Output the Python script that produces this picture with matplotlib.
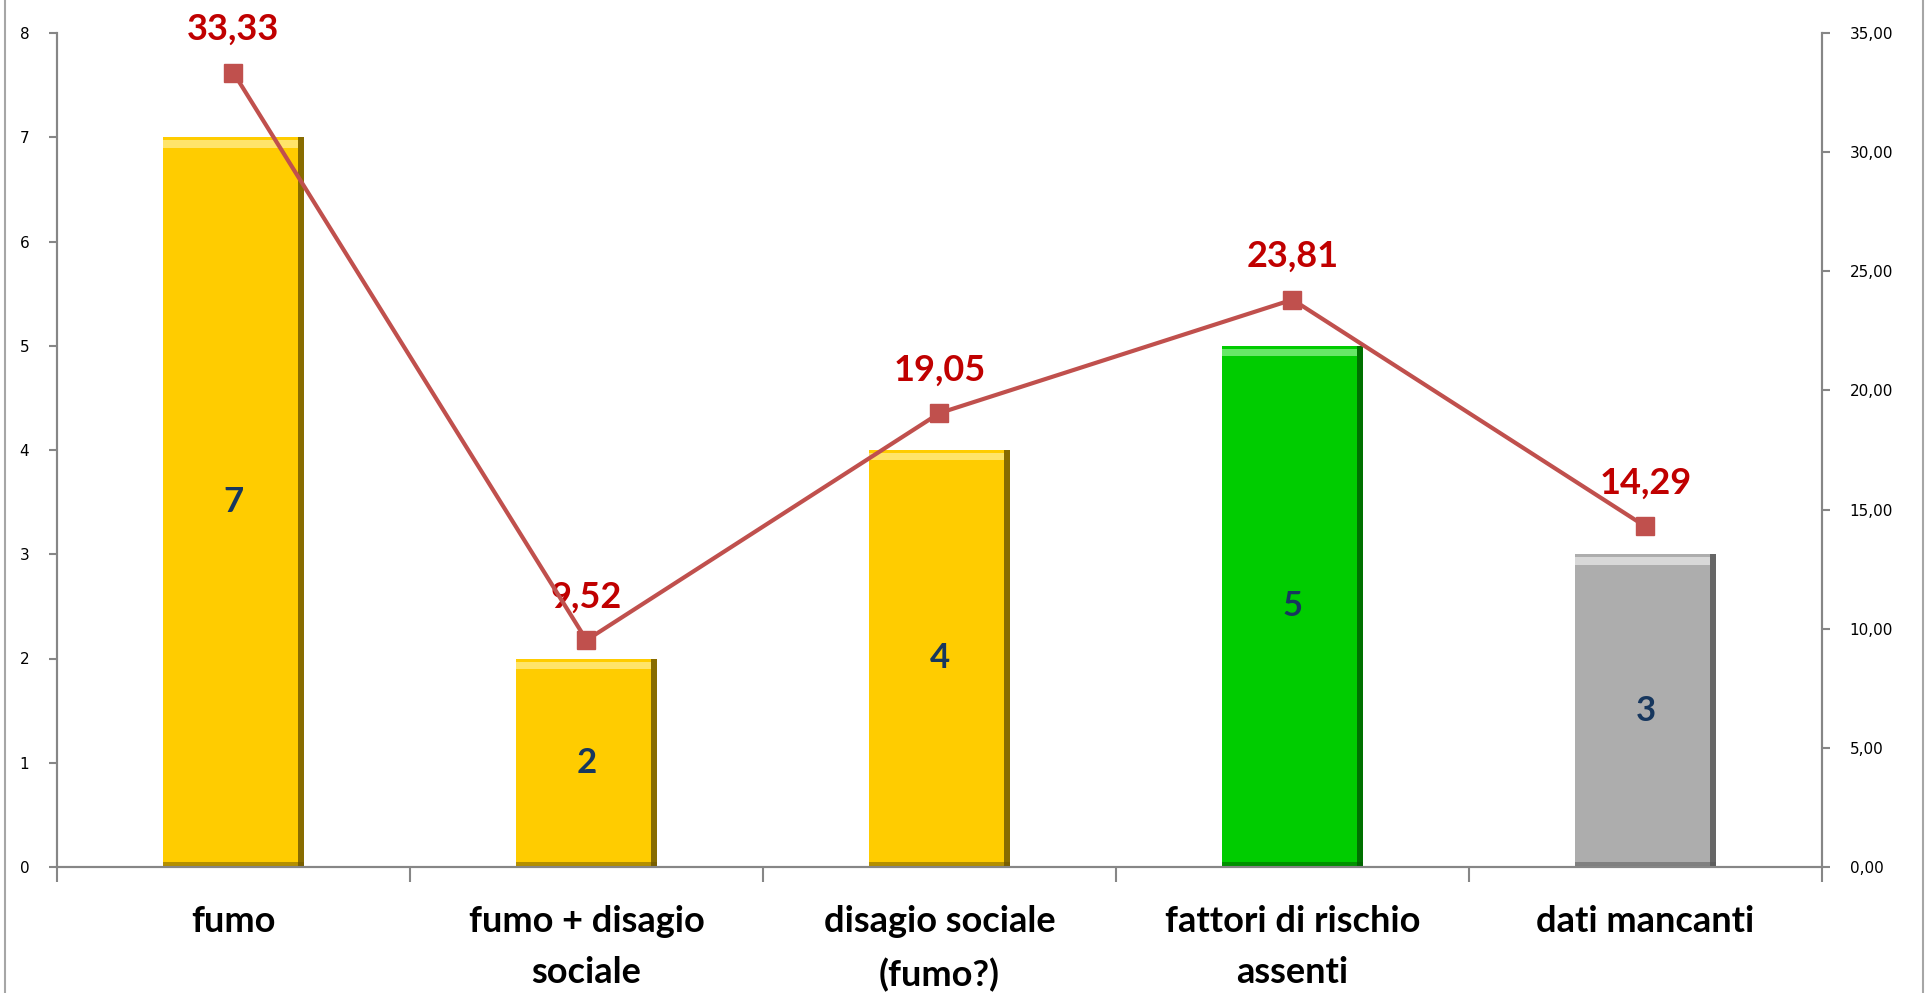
import matplotlib
matplotlib.use('Agg')
import matplotlib.pyplot as plt
from matplotlib.lines import Line2D
import numpy as np

categories = ['fumo', 'fumo + disagio\nsociale', 'disagio sociale\n(fumo?)',
              'fattori di rischio\nassenti', 'dati mancanti']
counts = [7, 2, 4, 5, 3]
percent = [33.33, 9.52, 19.05, 23.81, 14.29]
bar_colors = ['#FFCC00', '#FFCC00', '#FFCC00', '#00CC00', '#ADADAD']
edge_colors = ['#6B5400', '#6B5400', '#6B5400', '#005A00', '#555555']
top_colors = ['#FFE46A', '#FFE46A', '#FFE46A', '#66E866', '#D8D8D8']

left_ticks = list(range(0, 9))
right_ticks = [0, 5, 10, 15, 20, 25, 30, 35]

W, H = 1927, 993
fig = plt.figure(figsize=(W / 100, H / 100), dpi=100)
# chart-area frame: only the side edges are visible in the original
for xf in (4.5 / W, 1922.5 / W):
    fig.add_artist(Line2D([xf, xf], [0, 1], color='#A6A6A6', lw=1.5))

ax = fig.add_axes([57 / W, 1 - 867 / H, (1822 - 57) / W, (867 - 33) / H])
ax2 = ax.twinx()

x = np.arange(len(categories))
bw = 0.40
strip = 0.018

ax.bar(x, counts, width=bw, color=bar_colors, edgecolor='none', zorder=2)
# bevel: dark right strip, light top strip, dark bottom strip
ax.bar(x + bw / 2 - strip, counts, width=strip, align='edge', color=edge_colors, alpha=0.8,
       edgecolor='none', zorder=3)
ax.bar(x - bw / 2, [0.07] * len(x), width=bw - strip, bottom=np.array(counts) - 0.1,
       align='edge', color=top_colors, edgecolor='none', zorder=3)
ax.bar(x - bw / 2, [0.05] * len(x), width=bw, bottom=0, align='edge',
       color=edge_colors, alpha=0.5, edgecolor='none', zorder=3)

for xi, c in zip(x, counts):
    ax.text(xi, c / 2, str(c), ha='center', va='center', fontsize=25,
            fontweight='bold', color='#17375E', family='Lato', zorder=5)

ax.set_xlim(-0.5, len(categories) - 0.5)
ax.set_ylim(0, 8)
ax.set_yticks(left_ticks)
ax.set_xticks(x)
ax.set_xticklabels(categories, fontsize=26, fontweight='bold', family='Lato',
                   linespacing=1.7)
ax.set_xticks(np.arange(-0.5, len(categories)), minor=True)
ax.tick_params(axis='x', which='major', length=0, pad=27)
ax.tick_params(axis='x', which='minor', length=11, color='#868686', width=1.5)
ax.tick_params(axis='y', length=6, color='#868686', width=1.5, labelsize=11, pad=14)

ax2.set_ylim(0, 35)
ax2.set_yticks(right_ticks)
ax2.set_yticklabels([f'{v:.2f}'.replace('.', ',') for v in right_ticks])
ax2.tick_params(axis='y', length=6, color='#868686', width=1.5, labelsize=11, pad=14)

ax2.plot(x, percent, color='#C0504D', lw=3, marker='s', markersize=13, zorder=4)
for xi, p in zip(x, percent):
    ax2.annotate(f'{p:.2f}'.replace('.', ','), (xi, p), xytext=(0, 31),
                 textcoords='offset points', ha='center', va='center', fontsize=26,
                 fontweight='bold', color='#C00000', family='Lato')

for a in (ax, ax2):
    a.spines['top'].set_visible(False)
    for s in ('left', 'right', 'bottom'):
        a.spines[s].set_color('#868686')
        a.spines[s].set_linewidth(1.5)
ax.set_zorder(ax2.get_zorder() - 1)
ax.patch.set_visible(False)
ax2.patch.set_visible(False)

fig.savefig('out.png', dpi=100)
